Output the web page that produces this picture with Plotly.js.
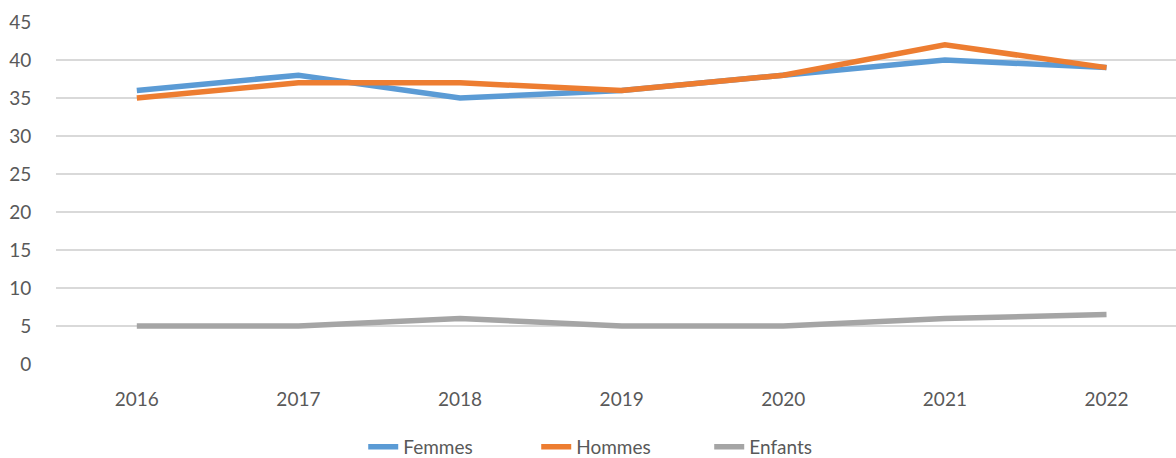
<!DOCTYPE html>
<html><head><meta charset="utf-8">
<script src="https://cdn.plot.ly/plotly-3.0.1.min.js"></script>
<style>body{margin:0;background:#fff}#c{width:1176px;height:458px}</style>
</head><body><div id="c"></div>
<script>
const years = ['2016','2017','2018','2019','2020','2021','2022'];
const femmes = [36,38,35,36,38,40,39];
const hommes = [35,37,37,36,38,42,39];
const enfants = [5,5,6,5,5,6,6.5];
const yTicks = [0,5,10,15,20,25,30,35,40,45];

const mk = (name, y, color) => ({x: years, y: y, name: name, type: 'scatter', mode: 'lines',
  line: {color: color, width: 5.5}});
const data = [mk('Femmes', femmes, '#5B9BD5'), mk('Hommes', hommes, '#ED7D31'), mk('Enfants', enfants, '#A5A5A5')];
const layout = {
  width: 1176, height: 458,
  margin: {l: 56, r: 0, t: 22, b: 94},
  paper_bgcolor: '#fff', plot_bgcolor: '#fff',
  font: {family: 'Lato, "Open Sans", sans-serif', size: 19, color: '#595959'},
  showlegend: true,
  legend: {orientation: 'h', x: 0.506, xanchor: 'center', yref: 'container', y: 0.024, yanchor: 'middle',
    entrywidth: 128, entrywidthmode: 'pixels', font: {size: 19, color: '#595959'}},
  xaxis: {type: 'category', range: [-0.5, 6.43], showgrid: false, zeroline: false, showline: false,
    ticks: 'outside', ticklen: 18, tickcolor: 'rgba(0,0,0,0)'},
  yaxis: {range: [0, 45], tickvals: yTicks, ticktext: yTicks.map(String), showgrid: true, gridcolor: '#D9D9D9', gridwidth: 1.5,
    zeroline: false, showline: false, ticks: 'outside', ticklen: 20, tickcolor: 'rgba(0,0,0,0)'},
};
Plotly.newPlot('c', data, layout, {displayModeBar: false, staticPlot: true});
</script></body></html>
